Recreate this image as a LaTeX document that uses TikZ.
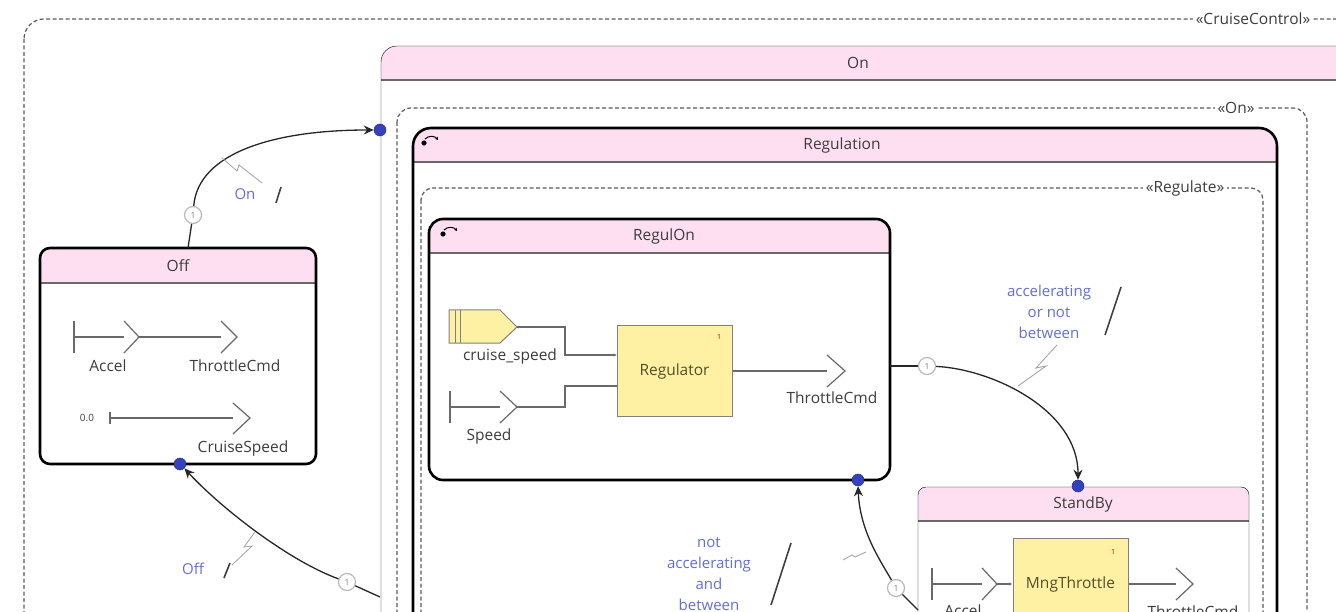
\documentclass[tikz,border=0pt]{standalone}
\usepackage{fontspec}
\setmainfont{Open Sans}
\usetikzlibrary{arrows.meta}
\definecolor{hdr}{RGB}{253,223,241}
\definecolor{blk}{RGB}{255,241,163}
\definecolor{dotb}{RGB}{52,66,190}
\definecolor{lbl}{RGB}{100,110,215}
\definecolor{txt}{RGB}{60,60,60}
\definecolor{thin}{RGB}{135,135,135}
\definecolor{frame}{RGB}{90,90,90}
\definecolor{port}{RGB}{105,105,105}
\definecolor{blktxt}{RGB}{85,78,40}
\newcommand\mkstate[7]{%
  \fill[white, rounded corners=#6] (#1,#2) rectangle (#3,#4);
  \begin{scope}
    \clip (#1,#2) rectangle (#3,#5);
    \fill[hdr, rounded corners=#6] (#1,#2) rectangle (#3,#4);
  \end{scope}
  \draw[port, line width=1.3pt] (#1,#5) -- (#3,#5);
  \draw[#7, rounded corners=#6] (#1,#2) rectangle (#3,#4);
}
\newcommand\histicon[2]{%
  \fill[black] (#1,#2) circle (2.6pt);
  \draw[black, line width=1pt, -{Stealth[length=3pt,width=3.5pt]}] (#1+1,#2-4) .. controls (#1+5,#2-8) and (#1+11,#2-7) .. (#1+14,#2-3);
}
\begin{document}
\begin{tikzpicture}[x=1pt,y=-1pt,
  every node/.style={font=\fontsize{15.5}{20}\selectfont, text=txt},
  thk/.style={line width=2.6pt, black},
  thn/.style={line width=1.2pt, thin},
  frm/.style={draw=frame, line width=1.2pt, dash pattern=on 4pt off 2.5pt},
  frmlbl/.style={fill=white, inner xsep=3pt, inner ysep=1pt, font=\fontsize{15.5}{18}\selectfont, text=txt},
  dot/.style={circle, fill=dotb, draw=dotb!70!black, line width=0.5pt, minimum size=12pt, inner sep=0pt},
  num/.style={circle, draw=gray!55, fill=white, line width=1.2pt, minimum size=17pt, inner sep=0pt, font=\fontsize{8.5}{8.5}\selectfont, text=gray},
  trans/.style={line width=1.3pt, black!85, -{Stealth[length=10pt,width=9pt]}},
  tline/.style={line width=1.3pt, black!85},
  guard/.style={text=lbl, align=center, font=\fontsize{15}{21}\selectfont},
  slash/.style={line width=1.6pt, black!75},
  bolt/.style={line width=0.8pt, gray!75},
  wire/.style={line width=1.2pt, port},
  fnblock/.style={draw=gray, fill=blk, line width=1pt, text=blktxt, inner sep=0pt},
  one/.style={font=\fontsize{7}{7}\selectfont, text=red!70!black},
  small/.style={font=\fontsize{10}{12}\selectfont}
]
\useasboundingbox (0,0) rectangle (1336,612);
\clip (0,0) rectangle (1336,612);

% CruiseControl frame
\draw[frm, rounded corners=20pt] (24,19) rectangle (1420,700);
\node[frmlbl] (lcc) at (1253,19) {«CruiseControl»};

% On state
\mkstate{381}{46}{1356}{700}{80}{16pt}{thn}
\node (ont) at (858,63) {On};
\draw[frm, rounded corners=14pt] (397,108) rectangle (1307,700);
\node[frmlbl] (lon) at (1236,108) {«On»};

% Regulation state
\mkstate{413}{128}{1277}{700}{162}{18pt}{thk}
\node (regt) at (842,145) {Regulation};
\histicon{424}{143}
\draw[frm, rounded corners=12pt] (421,188) rectangle (1263,700);
\node[frmlbl] (lrg) at (1185,188) {«Regulate»};

% RegulOn state
\mkstate{429}{219}{890}{480}{253}{14pt}{thk}
\node (rot) at (664,236) {RegulOn};
\histicon{443}{234}

% cruise_speed constant
\draw[line width=1pt, draw=gray, fill=blk] (449,310) -- (500,310) -- (517,327) -- (500,343) -- (449,343) -- cycle;
\draw[line width=0.9pt, gray] (455,310) -- (455,343) (460,310) -- (460,343);
\coordinate (cs) at (517,327);
\node (csl) at (510,356) {cruise\_speed};
% Speed inport
\draw[wire] (450,391) -- (450,423);
\draw[wire] (450,407) -- (500,407);
\draw[wire] (500,391) -- (517,407) -- (500,423);
\coordinate (sp) at (517,407);
\node (spl) at (489,436) {Speed};
% Regulator
\node[fnblock, minimum width=115pt, minimum height=91pt] (reg) at (674.5,371) {Regulator};
\node[one] (reg1) at (719,337) {1};
\coordinate (regin1) at (617,355);
\coordinate (regin2) at (617,386);
\draw[wire, -{Latex[length=3.5pt,width=3.5pt]}] (cs) -- (565,327) -- (565,355) -- (regin1);
\draw[wire] (sp) -- (565,407) -- (565,386) -- (regin2);
\coordinate (thc) at (827,371);
\draw[wire] (reg.east) -- (thc);
\draw[wire] (827,355) -- (845,371) -- (827,387);
\node (thl) at (832,398) {ThrottleCmd};

% StandBy state
\mkstate{918}{487}{1249}{700}{521}{8pt}{thn}
\node (sbt) at (1083,504) {StandBy};
\draw[wire] (932,568) -- (932,600);
\draw[wire] (932,584) -- (982,584);
\draw[wire] (982,568) -- (997,584) -- (982,600);
\node[fnblock, minimum width=115pt, minimum height=92pt] (mng) at (1070.5,584) {MngThrottle};
\node[one] (mng1) at (1113,552) {1};
\coordinate (acc2) at (997,584);
\draw[wire, -{Latex[length=3.5pt,width=3.5pt]}] (acc2) -- (mng.west);
\coordinate (thc2) at (1176,584);
\draw[wire] (mng.east) -- (thc2);
\draw[wire] (1176,568) -- (1193,584) -- (1176,600);
\node (acl2) at (963,611) {Accel};
\node (thl2) at (1193,612) {ThrottleCmd};

% Off state
\mkstate{40}{248}{316}{464}{283}{10pt}{thk}
\node (offt) at (178,265.5) {Off};
\draw[wire] (74,321) -- (74,353);
\draw[wire] (74,337) -- (124,337);
\draw[wire] (124,321) -- (139,337) -- (124,353);
\coordinate (acc1) at (139,337);
\coordinate (thc1) at (221,337);
\draw[wire] (acc1) -- (thc1);
\draw[wire] (221,321) -- (237,337) -- (221,353);
\node (acl1) at (108,366) {Accel};
\node (thl1) at (235,366) {ThrottleCmd};
\node[small] (zero) at (87,418) {0.0};
\draw[wire] (110,412) -- (110,424);
\coordinate (zs) at (110,418);
\coordinate (csp) at (233,418);
\draw[wire] (zs) -- (csp);
\draw[wire] (233,403) -- (250,418) -- (233,434);
\node (cspl) at (243,448) {CruiseSpeed};

% transitions
\node[dot] (d1) at (380,130) {};
\node[dot] (d2) at (180,464) {};
\node[dot] (d3) at (1078,486) {};
\node[dot] (d4) at (858,480) {};
\node[num] (c1) at (193,215) {1};
\node[num] (c2) at (347,582) {1};
\node[num] (c3) at (927,366) {1};
\node[num] (c4) at (896,588) {1};
\coordinate (s1) at (188,248);
\coordinate (s2) at (380,597);
\coordinate (s3) at (890,366);
\coordinate (s4) at (918,610);

\draw[tline] (s1) -- (c1);
\draw[trans] (c1) .. controls +(5,-62) and +(-100,0) .. (d1.west);
\draw[tline] (s2) -- (c2);
\draw[trans] (c2) .. controls +(-60,-22) and +(35,38) .. (d2.south east);
\draw[tline] (s3) -- (c3);
\draw[trans] (c3) .. controls +(65,3) and +(0,-70) .. (d3.north);
\draw[tline] (s4) -- (c4);
\draw[trans] (c4) .. controls +(-16,-28) and +(2,45) .. (d4.south);

% guards
\node[guard] (g1) at (245,194) {On};
\draw[slash] (281,187) -- (276,203);
\draw[bolt] (222,158) -- (237,171) -- (239,165) -- (262,183);
\node[guard] (g2) at (193,569) {Off};
\draw[slash] (230,563) -- (224,578);
\draw[bolt] (255,532) -- (244,547) -- (252,546) -- (232,565);
\node[guard] (g3) at (1049,312) {accelerating\\or not\\between};
\draw[slash] (1121,287) -- (1105,335);
\draw[bolt] (1057,345) -- (1036,368) -- (1046,366) -- (1018,386);
\node[guard] (g4) at (709,574) {not\\accelerating\\and\\between};
\draw[slash] (791,543) -- (771,605);
\draw[bolt] (843,560) -- (852,555) -- (855,557) -- (866,552);
\end{tikzpicture}
\end{document}
